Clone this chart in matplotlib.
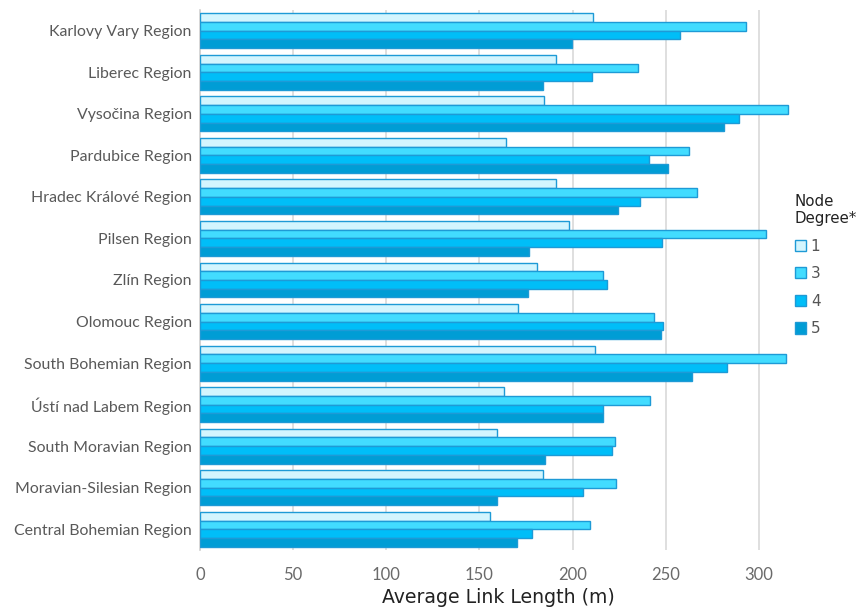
import matplotlib
matplotlib.use("Agg")
import matplotlib.pyplot as plt
import numpy as np
from matplotlib.patches import Patch

regions = [
    "Karlovy Vary Region", "Liberec Region", "Vysočina Region", "Pardubice Region",
    "Hradec Králové Region", "Pilsen Region", "Zlín Region", "Olomouc Region",
    "South Bohemian Region", "Ústí nad Labem Region", "South Moravian Region",
    "Moravian-Silesian Region", "Central Bohemian Region",
]
degree_1 = [210.8, 190.9, 184.8, 164.4, 190.9, 198.3, 181.2, 170.6, 212.1, 163.4, 159.4, 184.4, 155.5]
degree_3 = [293.2, 235.2, 315.9, 262.8, 266.6, 304.1, 216.6, 243.7, 314.7, 241.8, 222.9, 223.1, 209.6]
degree_4 = [257.7, 210.4, 289.2, 240.9, 236.5, 247.9, 218.5, 248.6, 282.9, 216.4, 221.2, 205.8, 178.0]
degree_5 = [199.8, 183.9, 281.4, 251.3, 224.6, 176.9, 175.9, 247.5, 264.2, 216.4, 185.2, 159.4, 170.2]
series_labels = ["1", "3", "4", "5"]
x_ticks = [0, 50, 100, 150, 200, 250, 300]

fills = ["#D3F5FE", "#42DCFF", "#00BEF8", "#009DD5"]
edge = "#1E9AD6"

fig = plt.figure(figsize=(8.63, 6.14), dpi=100)
ax = fig.add_axes([200 / 863, 1 - 550 / 614, 596 / 863, 540 / 614])

y = np.arange(len(regions))
h = 0.21
series = [degree_1, degree_3, degree_4, degree_5]
for i, vals in enumerate(series):
    offs = (i - 1.5) * h
    ax.barh(y + offs, vals, height=h, color=fills[i], edgecolor=edge,
            linewidth=1.0, zorder=3)

ax.set_ylim(len(regions) - 0.5, -0.5)
ax.set_xlim(0, 320)
ax.set_xticks(x_ticks)
ax.set_xticklabels([str(t) for t in x_ticks], fontfamily="Lato", fontsize=12,
                   color="#6a6a6a")
ax.set_yticks(y)
ax.set_yticklabels(regions, fontfamily="Lato", fontsize=11.4, color="#595959")
ax.tick_params(axis="y", length=0, pad=6)
ax.tick_params(axis="x", length=0, pad=12)

ax.grid(axis="x", color="#d9d9d9", linewidth=1.2, zorder=0)
for s in ["top", "right", "bottom"]:
    ax.spines[s].set_visible(False)
ax.spines["left"].set_color("#cfcfcf")
ax.spines["left"].set_linewidth(1.2)

ax.set_xlabel("Average Link Length (m)", fontfamily="DejaVu Sans", fontsize=13.6,
              color="#222222", labelpad=4)

handles = [Patch(facecolor=fills[i], edgecolor=edge, linewidth=1.0, label=series_labels[i])
           for i in range(4)]
leg = fig.legend(handles=handles, title="Node\nDegree*", loc="upper left",
                 bbox_to_anchor=(781 / 863, 1 - 180 / 614), frameon=False,
                 prop={"family": "DejaVu Sans", "size": 11}, handlelength=0.75,
                 handleheight=0.75, handletextpad=0.3, labelspacing=0.82,
                 alignment="left")
leg.get_title().set_fontfamily("DejaVu Sans")
leg.get_title().set_fontsize(10.8)
leg.get_title().set_color("#222222")
for t in leg.get_texts():
    t.set_color("#555555")

fig.savefig("out.png", dpi=100)
